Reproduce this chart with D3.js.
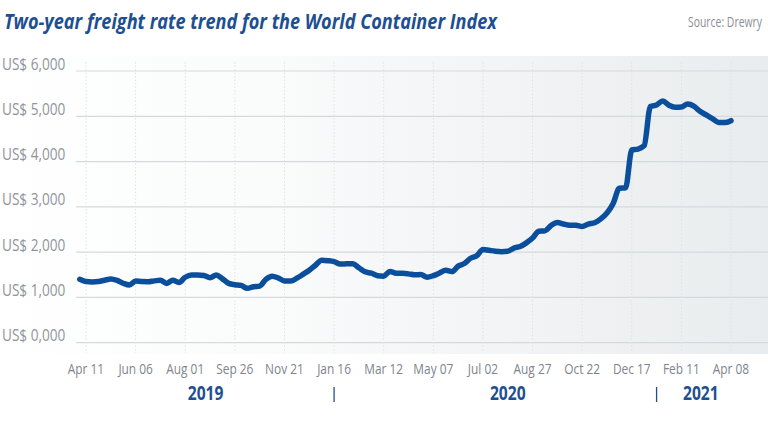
<!DOCTYPE html>
<html>
<head>
<meta charset="utf-8">
<script src="https://cdn.jsdelivr.net/npm/d3@7/dist/d3.min.js"></script>
<style>
  html, body { margin: 0; padding: 0; background: #fff; }
  svg { display: block; }
  text { font-family: "Open Sans", "Noto Sans", sans-serif; }
</style>
</head>
<body>
<div id="chart"></div>
<script>
// ---- data ----
const startDate = "2019-04-04"; // first weekly observation (Thursday)
const wciValues = [
  1400, 1350, 1340, 1350, 1380, 1405, 1375, 1312, 1275, 1360,
  1350, 1347, 1365, 1380, 1310, 1380, 1330, 1445, 1495, 1495,
  1485, 1435, 1495, 1410, 1310, 1280, 1265, 1200, 1237, 1250,
  1400, 1470, 1430, 1365, 1360, 1425, 1510, 1600, 1710, 1820,
  1810, 1790, 1738, 1742, 1745, 1655, 1565, 1535, 1480, 1470,
  1575, 1532, 1532, 1520, 1500, 1505, 1445, 1480, 1540, 1600,
  1570, 1690, 1750, 1865, 1920, 2060, 2040, 2020, 2010, 2020,
  2090, 2125, 2205, 2310, 2460, 2470, 2590, 2655, 2620, 2595,
  2593, 2565, 2620, 2648, 2735, 2865, 3075, 3410, 3420, 4256,
  4277, 4350, 5215, 5250, 5340, 5245, 5200, 5205, 5270, 5225,
  5110, 5030, 4950, 4865, 4860, 4903
];
const tickDates = ["2019-04-11","2019-06-06","2019-08-01","2019-09-26","2019-11-21","2020-01-16","2020-03-12",
                   "2020-05-07","2020-07-02","2020-08-27","2020-10-22","2020-12-17","2021-02-11","2021-04-08"];
const tickLabels = ["Apr 11","Jun 06","Aug 01","Sep 26","Nov 21","Jan 16","Mar 12",
                    "May 07","Jul 02","Aug 27","Oct 22","Dec 17","Feb 11","Apr 08"];
const yTicks = [0, 1000, 2000, 3000, 4000, 5000, 6000];
const yTickLabels = ["US$ 0,000","US$ 1,000","US$ 2,000","US$ 3,000","US$ 4,000","US$ 5,000","US$ 6,000"];
const yearLabels = ["2019", "2020", "2021"];
const yearCenters = ["2019-08-24", "2020-07-30", "2021-03-05"];
const yearSeparators = ["2020-01-16", "2021-01-14"];
const title = "Two-year freight rate trend for the World Container Index";
const source = "Source: Drewry";

// ---- build ----
const W = 768, H = 430;
const parse = d3.utcParse("%Y-%m-%d");
const t0 = parse(startDate);
const series = wciValues.map((v, i) => ({ date: d3.utcDay.offset(t0, i * 7), value: v }));

const svg = d3.select("#chart").append("svg").attr("width", W).attr("height", H);

// condense text horizontally (mimics a condensed face)
function condense(sel, factor) {
  sel.each(function () {
    const w = this.getComputedTextLength();
    d3.select(this).attr("textLength", w * factor).attr("lengthAdjust", "spacingAndGlyphs");
  });
}

const defs = svg.append("defs");
const grad = defs.append("linearGradient").attr("id", "bg").attr("x1", 0).attr("x2", 1).attr("y1", 0).attr("y2", 0);
grad.append("stop").attr("offset", "0%").attr("stop-color", "#ffffff");
grad.append("stop").attr("offset", "35%").attr("stop-color", "#fafbfb");
grad.append("stop").attr("offset", "100%").attr("stop-color", "#e9ecee");

svg.append("rect").attr("x", 0).attr("y", 56).attr("width", W).attr("height", 298).attr("fill", "url(#bg)");

const x = d3.scaleUtc().domain([parse("2019-04-11"), parse("2021-04-08")]).range([86, 731]);
const y = d3.scaleLinear().domain([0, 6000]).range([342.7, 71]);

// horizontal grid
svg.append("g").selectAll("line").data(yTicks).join("line")
  .attr("x1", 76).attr("x2", W)
  .attr("y1", d => y(d)).attr("y2", d => y(d))
  .attr("stroke", "#d5d9de").attr("stroke-width", 1.2);

// vertical dotted grid
svg.append("g").selectAll("line").data(tickDates).join("line")
  .attr("x1", d => x(parse(d))).attr("x2", d => x(parse(d)))
  .attr("y1", 62).attr("y2", 353)
  .attr("stroke", "#dfe2e6").attr("stroke-width", 1).attr("stroke-dasharray", "1.5,2");

// y labels
svg.append("g").selectAll("text").data(yTicks).join("text")
  .attr("x", 2).attr("y", d => y(d) - 6)
  .attr("dominant-baseline", "middle")
  .attr("fill", "#8f949a").attr("font-size", 17)
  .text((d, i) => yTickLabels[i])
  .call(condense, 0.8);

// x tick labels
svg.append("g").selectAll("text").data(tickDates).join("text")
  .attr("x", d => x(parse(d))).attr("y", 370)
  .attr("text-anchor", "middle").attr("dominant-baseline", "middle")
  .attr("fill", "#7e858d").attr("font-size", 14.5)
  .text((d, i) => tickLabels[i])
  .call(condense, 0.82);

// year labels
svg.append("g").selectAll("text").data(yearLabels).join("text")
  .attr("x", (d, i) => x(parse(yearCenters[i]))).attr("y", 395)
  .attr("text-anchor", "middle").attr("dominant-baseline", "middle")
  .attr("fill", "#1d4f91").attr("font-size", 20).attr("font-weight", "bold")
  .text(d => d)
  .call(condense, 0.78);

svg.append("g").selectAll("line").data(yearSeparators).join("line")
  .attr("x1", d => x(parse(d))).attr("x2", d => x(parse(d)))
  .attr("y1", 387).attr("y2", 402)
  .attr("stroke", "#1d4f91").attr("stroke-width", 1.3);

// line
const line = d3.line().x(d => x(d.date)).y(d => y(d.value)).curve(d3.curveMonotoneX);
svg.append("path").datum(series)
  .attr("d", line).attr("fill", "none")
  .attr("stroke", "#0b4f9c").attr("stroke-width", 5.5)
  .attr("stroke-linejoin", "round").attr("stroke-linecap", "round");

// title & source
svg.append("text").attr("x", 4).attr("y", 29)
  .attr("fill", "#1d4f91").attr("font-size", 22).attr("font-weight", "bold").attr("font-style", "italic")
  .attr("textLength", 493).attr("lengthAdjust", "spacingAndGlyphs")
  .text(title);
svg.append("text").attr("x", 762).attr("y", 27).attr("text-anchor", "end")
  .attr("fill", "#8a8f95").attr("font-size", 14)
  .attr("textLength", 74).attr("lengthAdjust", "spacingAndGlyphs")
  .text(source);
</script>
</body>
</html>
